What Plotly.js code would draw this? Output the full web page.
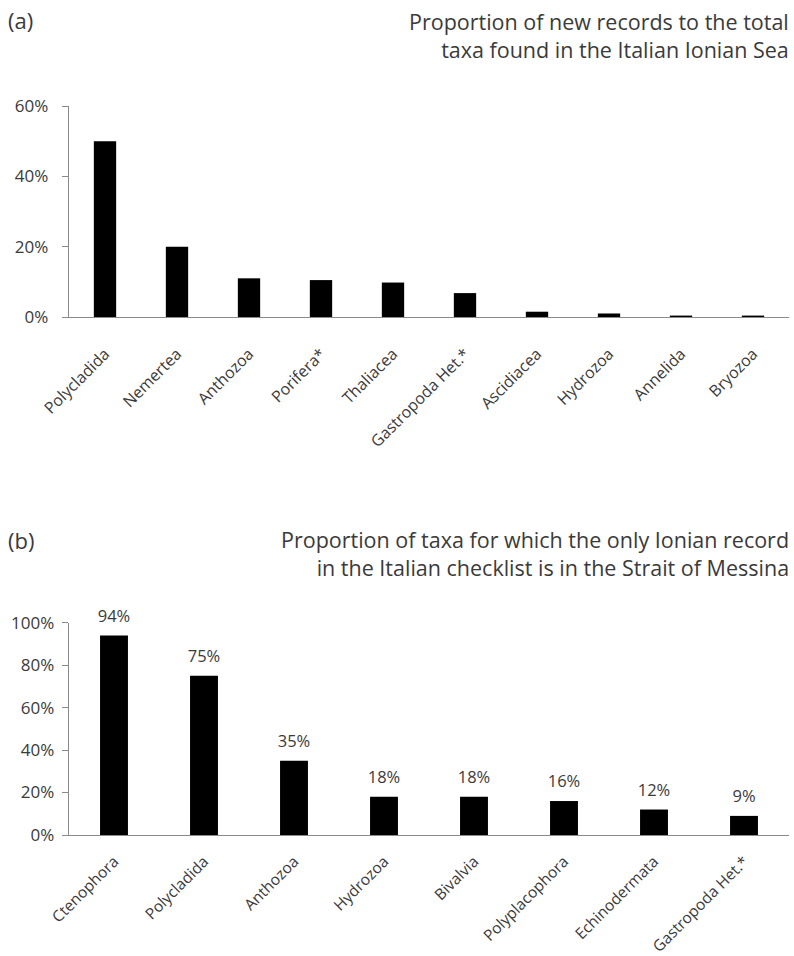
<!DOCTYPE html>
<html><head><meta charset="utf-8">
<script src="https://cdn.plot.ly/plotly-3.0.1.min.js"></script>
<style>html,body{margin:0;padding:0;background:#fff}</style>
</head><body><div id="chart" style="width:794px;height:956px"></div>
<script>
// Panel (a)
const catsA = ["Polycladida","Nemertea","Anthozoa","Porifera*","Thaliacea","Gastropoda Het.*","Ascidiacea","Hydrozoa","Annelida","Bryozoa"];
const valsA = [50, 20, 11, 10.5, 9.8, 6.8, 1.5, 1.0, 0.4, 0.4];
const tickValsA = [0, 20, 40, 60];
const tickTextA = ["0%", "20%", "40%", "60%"];
// Panel (b)
const catsB = ["Ctenophora","Polycladida","Anthozoa","Hydrozoa","Bivalvia","Polyplacophora","Echinodermata","Gastropoda Het.*"];
const valsB = [94, 75, 35, 18, 18, 16, 12, 9];
const labelsB = ["94%","75%","35%","18%","18%","16%","12%","9%"];
const tickValsB = [0, 20, 40, 60, 80, 100];
const tickTextB = ["0%", "20%", "40%", "60%", "80%", "100%"];

const W = 794, H = 956, L = 69, R = 5;
const px = x => (x - L) / (W - L - R);
const py = y => 1 - y / H;
const FONT = "Open Sans, Noto Sans, sans-serif";
const TXT = "#3a3a3a";

const traces = [
  {type:"bar", x: catsA, y: valsA, xaxis:"x", yaxis:"y", marker:{color:"#000"}, hoverinfo:"skip"},
  {type:"bar", x: catsB, y: valsB, xaxis:"x2", yaxis:"y2", marker:{color:"#000"}, hoverinfo:"skip"},
  {type:"scatter", mode:"markers+text", x: catsB, y: valsB, xaxis:"x2", yaxis:"y2",
   marker:{size:14, opacity:0, color:"#fff"}, text: labelsB, textposition:"top center", cliponaxis:false,
   textfont:{family:FONT, size:16.5, color:TXT}, hoverinfo:"skip"}
];

const axisCommon = {showgrid:false, zeroline:false, showline:true, linecolor:"#8a8a8a", linewidth:1.3, automargin:false};

const layout = {
  width: W, height: H,
  margin: {l:L, r:R, t:0, b:0},
  paper_bgcolor:"#fff", plot_bgcolor:"#fff",
  showlegend:false,
  bargap: 0.69,
  font:{family:FONT, color:TXT},
  xaxis: Object.assign({}, axisCommon, {domain:[0,1], anchor:"y", ticks:"", tickangle:-45,
    range:[-0.5, catsA.length - 0.5],
    ticklabelstandoff:20, tickfont:{family:FONT, size:16, color:TXT}}),
  yaxis: Object.assign({}, axisCommon, {domain:[py(317), py(106)], anchor:"x", range:[0,60],
    tickmode:"array", tickvals:tickValsA, ticktext:tickTextA, ticks:"outside", ticklen:6, tickcolor:"#8a8a8a",
    ticklabelstandoff:10, tickfont:{family:FONT, size:17, color:TXT}}),
  xaxis2: Object.assign({}, axisCommon, {domain:[0,1], anchor:"y2", ticks:"", tickangle:-45,
    range:[-0.5, catsB.length - 0.5],
    ticklabelstandoff:10, tickfont:{family:FONT, size:15.5, color:TXT}}),
  yaxis2: Object.assign({}, axisCommon, {domain:[py(835), py(622.7)], anchor:"x2", range:[0,100],
    tickmode:"array", tickvals:tickValsB, ticktext:tickTextB, ticks:"outside", ticklen:6, tickcolor:"#8a8a8a",
    ticklabelstandoff:4, tickfont:{family:FONT, size:17, color:TXT}}),
  annotations: [
    {xref:"paper", yref:"paper", x:px(6), y:py(20), xanchor:"left", yanchor:"middle", showarrow:false,
     text:"(a)", font:{family:FONT, size:22, color:TXT}},
    {xref:"paper", yref:"paper", x:px(791), y:py(35), xanchor:"right", yanchor:"middle", align:"right", showarrow:false,
     text:"Proportion of new records to the total<br>taxa found in the Italian Ionian Sea", font:{family:FONT, size:21.5, color:TXT}},
    {xref:"paper", yref:"paper", x:px(6), y:py(540), xanchor:"left", yanchor:"middle", showarrow:false,
     text:"(b)", font:{family:FONT, size:22, color:TXT}},
    {xref:"paper", yref:"paper", x:px(791), y:py(553), xanchor:"right", yanchor:"middle", align:"right", showarrow:false,
     text:"Proportion of taxa for which the only Ionian record<br>in the Italian checklist is in the Strait of Messina", font:{family:FONT, size:21.5, color:TXT}}
  ]
};

Plotly.newPlot("chart", traces, layout, {staticPlot:true, displayModeBar:false});
</script></body></html>
